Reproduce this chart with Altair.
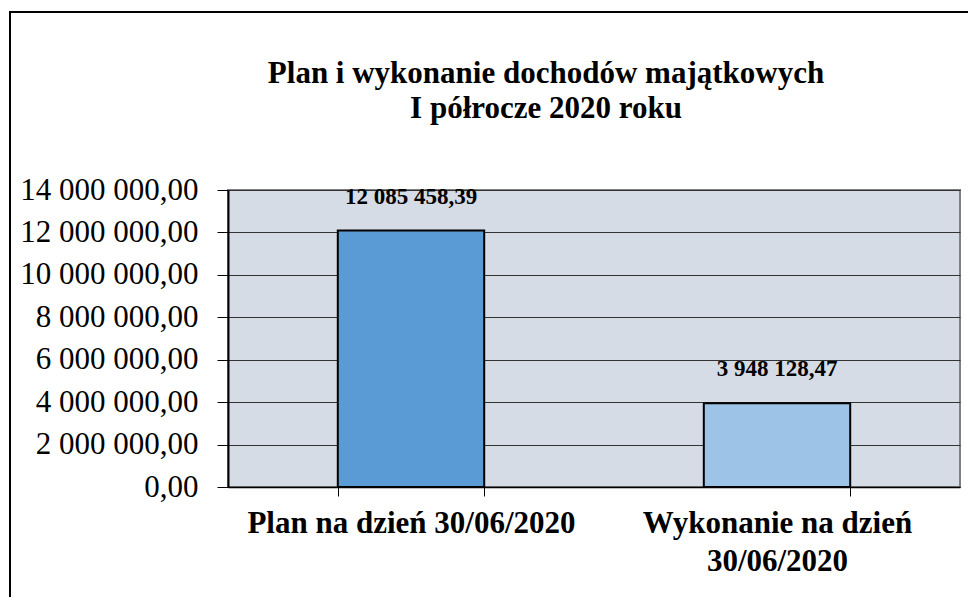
import altair as alt
import pandas as pd

categories = ["Plan na dzień 30/06/2020", "Wykonanie na dzień\n30/06/2020"]
values = [12085458.39, 3948128.47]
colors = ["#5B9BD5", "#9DC3E6"]
y_ticks = [0, 2000000, 4000000, 6000000, 8000000, 10000000, 12000000, 14000000]
title_lines = ["Plan i wykonanie dochodów majątkowych", "I półrocze 2020 roku"]

df = pd.DataFrame({"cat": categories, "val": values, "color": colors})

FONT = "Liberation Serif"
pl_fmt = "replace(replace(format({v}, ',.2f'), regexp(',', 'g'), ' '), '.', ',')"

base = alt.Chart(df).transform_calculate(
    lab=pl_fmt.format(v="datum.val")
)

x_enc = alt.X(
    "cat:N",
    sort=categories,
    title=None,
    scale=alt.Scale(paddingInner=0.6, paddingOuter=0.3),
    axis=alt.Axis(
        labelAngle=0,
        labelExpr="split(datum.label, '\\n')",
        labelFont=FONT,
        labelFontSize=31,
        labelFontWeight="bold",
        labelColor="black",
        labelPadding=12,
        labelLineHeight=38,
        labelBaseline="top",
        tickBand="extent",
        tickSize=9,
        tickColor="black",
        domainColor="black",
        domainWidth=1.5,
        labelLimit=500,
    ),
)

bars = base.mark_bar(stroke="black", strokeWidth=2).encode(
    x=x_enc,
    y=alt.Y(
        "val:Q",
        title=None,
        scale=alt.Scale(domain=[0, 14000000], nice=False),
        axis=alt.Axis(
            values=y_ticks,
            labelExpr=pl_fmt.format(v="datum.value"),
            labelFont=FONT,
            labelFontSize=31,
            labelColor="black",
            labelPadding=19,
            tickSize=11,
            tickColor="black",
            domainColor="black",
            domainWidth=2,
            gridColor="#333333",
            gridWidth=1,
        ),
    ),
    color=alt.Color("color:N", scale=None),
)

texts = base.mark_text(
    font=FONT, fontSize=23, fontWeight="bold", color="black", baseline="bottom", dy=-22
).encode(
    x=alt.X("cat:N", sort=categories),
    y="val:Q",
    text="lab:N",
)

title_df = pd.DataFrame({"t": ["\n".join(title_lines)]})
title = alt.Chart(title_df).mark_text(
    font=FONT, fontSize=31, fontWeight="bold", color="black",
    align="center", baseline="alphabetic", lineBreak="\n", lineHeight=35,
).encode(
    x=alt.value(318), y=alt.value(-107), text="t:N"
)

frame_df = pd.DataFrame({"a": [0]})
frame = alt.Chart(frame_df).mark_rect(
    filled=False, stroke="black", strokeWidth=2
).encode(
    x=alt.value(-218), y=alt.value(-178), x2=alt.value(800), y2=alt.value(500)
)

chart = alt.layer(frame, title, bars, texts).properties(
    width=732,
    height=297,
    padding={"left": 220, "top": 182, "right": 8, "bottom": 110},
    autosize=alt.AutoSizeParams(type="none"),
    background="white",
).configure_view(
    fill="#D6DCE5", stroke="#808080", strokeWidth=2
)

chart.save("out.html", embed_options={"renderer": "svg", "actions": False})
